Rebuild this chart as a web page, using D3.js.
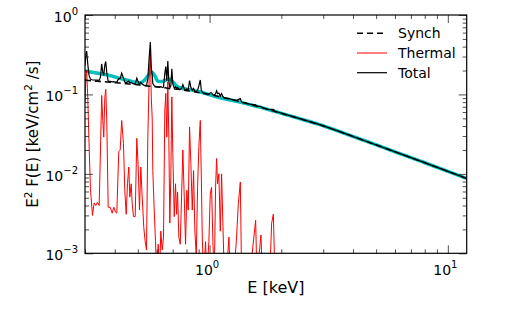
<!DOCTYPE html>
<html><head><meta charset="utf-8">
<script src="https://cdn.jsdelivr.net/npm/d3@7"></script>
<style>body{margin:0;background:#fff}svg{display:block}text{font-family:"DejaVu Sans",sans-serif;fill:#000}</style>
</head><body><svg id="c" width="518" height="314"></svg>
<script>
// ---- data (keV, keV/cm^2/s) ----
const energy=[0.300,0.3028,0.3049,0.3082,0.3118,0.3162,0.3224,0.3278,0.3329,0.3384,
0.3440,0.3484,0.3524,0.3562,0.3597,0.3632,0.3667,0.3703,0.3753,0.3826,
0.3901,0.3962,0.4028,0.4079,0.4158,0.4215,0.4277,0.4352,0.4407,0.4467,
0.4523,0.4581,0.4625,0.4688,0.4734,0.4794,0.4873,0.4949,0.5017,0.5080,
0.5144,0.5214,0.5296,0.5368,0.5436,0.5505,0.5580,0.5640,0.5694,0.5744,
0.5777,0.5856,0.5930,0.6005,0.6087,0.6164,0.6242,0.6327,0.6407,0.6488,
0.6551,0.6615,0.6679,0.6744,0.6810,0.6876,0.6943,0.7010,0.7106,0.7197,
0.7266,0.7337,0.7430,0.7531,0.7627,0.7723,0.7829,0.7928,0.8028,0.8138,
0.8241,0.8346,0.8460,0.8567,0.8675,0.8794,0.8905,0.9017,0.9140,0.9228,
0.9318,0.9436,0.9620,0.9742,0.9932,1.0068,1.0195,1.0324,1.0465,1.0598,
1.0701,1.0804,1.0941,1.1090,1.1230,1.1372,1.1528,1.1753,1.2052,1.2217,
1.2614,1.2948,1.3201,1.3459,1.3630,1.4032,1.4729,1.5608,1.5805,1.6430,
1.6654,1.7870,1.8219,1.8521,1.8810,1.9307,
2.389,2.899,3.518,4.27,5.18,6.29,7.63,9.26,12.0];

const synch=[0.152,0.151,0.151,0.150,0.150,0.149,0.149,0.148,0.147,0.147,
0.146,0.146,0.145,0.145,0.144,0.144,0.144,0.143,0.143,0.142,
0.141,0.141,0.140,0.140,0.139,0.139,0.138,0.137,0.137,0.136,
0.136,0.135,0.135,0.134,0.134,0.133,0.133,0.132,0.132,0.131,
0.130,0.130,0.129,0.129,0.128,0.128,0.127,0.127,0.126,0.126,
0.126,0.125,0.125,0.124,0.124,0.123,0.123,0.122,0.122,0.121,
0.121,0.120,0.120,0.119,0.119,0.119,0.118,0.118,0.117,0.117,
0.116,0.116,0.115,0.115,0.114,0.113,0.113,0.112,0.111,0.111,
0.110,0.109,0.109,0.108,0.108,0.107,0.106,0.106,0.105,0.104,
0.104,0.103,0.102,0.101,0.100,0.0991,0.0983,0.0976,0.0968,0.0960,
0.0955,0.0949,0.0942,0.0934,0.0925,0.0916,0.0907,0.0894,0.0877,0.0868,
0.0848,0.0831,0.0819,0.0807,0.0798,0.0780,0.0750,0.0714,0.0707,0.0685,
0.0677,0.0637,0.0626,0.0618,0.0609,0.0596,
0.0495,0.0416,0.0340,0.0275,0.0223,0.0180,0.01455,0.01174,0.00875];

const thermal=[0.08,0.17,0.20,0.09,0.025,0.0065,0.0030,0.0043,0.0040,0.0044,
0.0040,0.020,0.097,0.047,0.029,0.090,0.116,0.045,0.0038,0.0038,
0.0032,0.0038,0.0033,0.0032,0.019,0.020,0.047,0.024,0.0062,0.0031,
0.0075,0.0122,0.0051,0.0075,0.0042,0.0029,0.0029,0.028,0.0122,0.0035,
0.0122,0.0051,0.0021,0.0014,0.0011,0.029,0.167,0.33,0.09,0.05,
0.011,0.0035,0.0014,0.0005,0.0013,0.0005,0.0019,0.0011,0.0016,0.0635,
0.103,0.029,0.144,0.029,0.0024,0.0091,0.093,0.018,0.0029,0.0075,
0.0031,0.0059,0.0016,0.0013,0.0051,0.020,0.0051,0.0013,0.0062,0.0035,
0.039,0.0135,0.0035,0.011,0.0019,0.0009,0.0068,0.022,0.047,0.010,
0.0016,0.0005,0.0014,0.0005,0.0014,0.0056,0.0068,0.0014,0.0005,0.0068,
0.0156,0.0075,0.010,0.0019,0.010,0.0024,0.0005,0.0005,0.0016,0.0005,
0.0005,0.0014,0.0042,0.0079,0.0005,0.0005,0.0005,0.0026,0.0005,0.0017,
0.0005,0.0005,0.0024,0.0031,0.0005,0.0005];

const total=[0.232,0.321,0.351,0.240,0.175,0.156,0.152,0.152,0.151,0.151,
0.150,0.166,0.242,0.192,0.173,0.234,0.260,0.188,0.147,0.146,
0.144,0.145,0.143,0.143,0.158,0.159,0.185,0.161,0.143,0.139,
0.144,0.147,0.140,0.142,0.138,0.136,0.136,0.160,0.144,0.135,
0.142,0.135,0.131,0.130,0.129,0.157,0.294,0.457,0.216,0.176,
0.137,0.129,0.126,0.125,0.125,0.124,0.125,0.123,0.124,0.185,
0.224,0.149,0.264,0.148,0.121,0.128,0.211,0.136,0.120,0.125,
0.119,0.122,0.117,0.116,0.119,0.133,0.118,0.113,0.117,0.115,
0.149,0.123,0.113,0.119,0.110,0.108,0.113,0.128,0.152,0.114,
0.106,0.104,0.103,0.102,0.101,0.105,0.105,0.099,0.0973,0.103,
0.111,0.102,0.104,0.0953,0.1025,0.094,0.0912,0.0899,0.0893,0.0873,
0.0853,0.0845,0.0861,0.0886,0.0803,0.0785,0.0755,0.074,0.0712,0.0702,
0.0682,0.0642,0.065,0.0649,0.0614,0.0601,
0.0495,0.0416,0.0340,0.0275,0.0223,0.0180,0.01455,0.01174,0.00875];

const smoothEnergy=[0.300,0.345,0.380,0.419,0.461,0.508,0.533,0.554,0.571,0.587,0.608,0.629,0.653,0.679,0.706,0.734,0.778,0.824,0.908,1.060,1.311,1.623,1.969,2.389,2.899,3.518,4.27,5.18,6.29,7.63,9.26,12.0];
const smoothModel=[0.197,0.183,0.173,0.160,0.149,0.139,0.151,0.175,0.191,0.175,0.146,0.145,0.151,0.156,0.141,0.125,0.118,0.115,0.108,0.0938,0.0811,0.0691,0.0586,0.0495,0.0416,0.0340,0.0275,0.0223,0.0180,0.01455,0.01174,0.00875];

const xMajor=[1,10];
const xMinor=[0.3,0.4,0.5,0.6,0.7,0.8,0.9,2,3,4,5,6,7,8,9];
const yMajor=[1e-3,1e-2,1e-1,1];
const yMinor=[2e-3,3e-3,4e-3,5e-3,6e-3,7e-3,8e-3,9e-3,2e-2,3e-2,4e-2,5e-2,6e-2,7e-2,8e-2,9e-2,2e-1,3e-1,4e-1,5e-1,6e-1,7e-1,8e-1,9e-1];
const xTickLabels=[["10","0"],["10","1"]];
const yTickLabels=[["10","\u22123"],["10","\u22122"],["10","\u22121"],["10","0"]];
const legendLabels=["Synch","Thermal","Total"];

// ---- drawing ----
const L=85,R=466.7,T=15,B=253.3;
const svg=d3.select("#c");
const x=d3.scaleLog().domain([0.3,12]).range([L,R]);
const y=d3.scaleLog().domain([1e-3,1]).range([B,T]);

svg.append("defs").append("clipPath").attr("id","clip")
  .append("rect").attr("x",L).attr("y",T).attr("width",R-L).attr("height",B-T);

const plot=svg.append("g").attr("clip-path","url(#clip)");
const line=d3.line().x(d=>x(d[0])).y(d=>y(d[1]));

plot.append("path").datum(smoothEnergy.map((e,i)=>[e,smoothModel[i]]))
  .attr("d",line.curve(d3.curveMonotoneX)).attr("fill","none")
  .attr("stroke","#00bfbf").attr("stroke-width",3.5);
line.curve(d3.curveLinear);
plot.append("path").datum(thermal.map((t,i)=>[energy[i],t]))
  .attr("d",line).attr("fill","none").attr("stroke","#ff0000").attr("stroke-width",1);
plot.append("path").datum(energy.map((e,i)=>[e,synch[i]]))
  .attr("d",line).attr("fill","none").attr("stroke","#000").attr("stroke-width",1.5).attr("stroke-dasharray","6,4");
plot.append("path").datum(energy.map((e,i)=>[e,total[i]]))
  .attr("d",line).attr("fill","none").attr("stroke","#000").attr("stroke-width",1.2);

// axes with inward ticks
function ax(gen,tr,vals,size){
  const g=svg.append("g").attr("transform",tr)
    .call(gen.tickValues(vals).tickSize(-size).tickFormat(()=>""));
  g.select(".domain").remove();
  g.selectAll(".tick line").attr("stroke","#222").attr("stroke-width",0.8);
}
ax(d3.axisBottom(x),`translate(0,${B})`,xMajor,8);
ax(d3.axisBottom(x),`translate(0,${B})`,xMinor,4);
ax(d3.axisTop(x),`translate(0,${T})`,xMajor,8);
ax(d3.axisTop(x),`translate(0,${T})`,xMinor,4);
ax(d3.axisLeft(y),`translate(${L},0)`,yMajor,8);
ax(d3.axisLeft(y),`translate(${L},0)`,yMinor,4);
ax(d3.axisRight(y),`translate(${R},0)`,yMajor,8);
ax(d3.axisRight(y),`translate(${R},0)`,yMinor,4);

svg.append("rect").attr("x",L).attr("y",T).attr("width",R-L).attr("height",B-T)
  .attr("fill","none").attr("stroke","#000").attr("stroke-width",1.2);

// tick labels
xMajor.forEach((v,i)=>{
  const t=svg.append("text").attr("x",x(v)-2.5).attr("y",B+22).attr("text-anchor","middle").attr("font-size",14);
  t.append("tspan").text(xTickLabels[i][0]);
  t.append("tspan").attr("font-size",10).attr("dy",-7).text(xTickLabels[i][1]);
});
yMajor.forEach((v,i)=>{
  const t=svg.append("text").attr("x",L-7).attr("y",y(v)+7).attr("text-anchor","end").attr("font-size",14);
  t.append("tspan").text(yTickLabels[i][0]);
  t.append("tspan").attr("font-size",10).attr("dy",-7).text(yTickLabels[i][1]);
});

// axis titles
svg.append("text").attr("x",(L+R)/2).attr("y",293).attr("text-anchor","middle").attr("font-size",16).text("E [keV]");
const yl=svg.append("text").attr("transform",`translate(37.5,${(T+B)/2}) rotate(-90)`).attr("text-anchor","middle").attr("font-size",15);
yl.append("tspan").text("E");
yl.append("tspan").attr("font-size",10.5).attr("dy",-6).text("2");
yl.append("tspan").attr("dy",6).text(" F(E) [keV/cm");
yl.append("tspan").attr("font-size",10.5).attr("dy",-6).text("2");
yl.append("tspan").attr("dy",6).text(" /s]");

// legend
const legStyles=[{c:"#000",d:"6,4",w:1.5},{c:"#ff0000",d:null,w:1},{c:"#000",d:null,w:1.2}];
legendLabels.forEach((lab,i)=>{
  const yy=33.3+i*19.7;
  svg.append("line").attr("x1",357).attr("x2",387).attr("y1",yy).attr("y2",yy)
    .attr("stroke",legStyles[i].c).attr("stroke-width",legStyles[i].w).attr("stroke-dasharray",legStyles[i].d);
  svg.append("text").attr("x",398).attr("y",yy+5).attr("font-size",14).text(lab);
});
</script></body></html>
